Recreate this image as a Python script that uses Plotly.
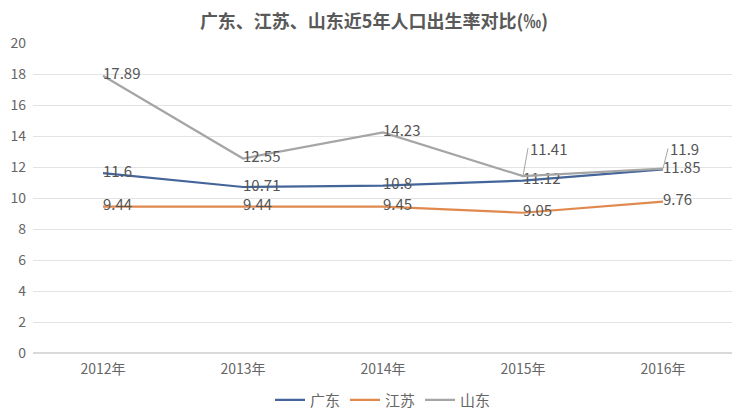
import plotly.graph_objects as go

years = ['2012年', '2013年', '2014年', '2015年', '2016年']
guangdong = [11.6, 10.71, 10.8, 11.12, 11.85]
jiangsu = [9.44, 9.44, 9.45, 9.05, 9.76]
shandong = [17.89, 12.55, 14.23, 11.41, 11.9]

# 山东 last two labels sit above with leader lines (pixel offsets up)
callout_idx = [3, 4]
callout_lift = [-28, -20]

font_cn = 'Noto Sans CJK SC'
label_color = '#555555'

fig = go.Figure()

series = [
    ('广东', guangdong, '#44659A'),
    ('江苏', jiangsu, '#E0894E'),
    ('山东', shandong, '#A5A5A5'),
]

for name, vals, color in series:
    if name == '山东':
        texts = ['' if i in callout_idx else str(v) for i, v in enumerate(vals)]
    else:
        texts = [str(v) for v in vals]
    fig.add_trace(go.Scatter(
        x=years, y=vals, name=name, mode='lines+text',
        line=dict(color=color, width=2.2),
        text=texts, textposition='middle right',
        textfont=dict(size=15, color=label_color, family=font_cn),
        cliponaxis=False,
    ))

for i, lift in zip(callout_idx, callout_lift):
    fig.add_annotation(
        x=years[i], y=shandong[i], text=str(shandong[i]),
        showarrow=True, arrowhead=0, arrowwidth=1, arrowcolor='#A5A5A5',
        ax=5, ay=lift, xanchor='left', yanchor='middle',
        font=dict(size=15, color=label_color, family=font_cn),
    )

# page body adds an 8px offset, so the figure is a bit smaller than the window
fig.update_layout(
    width=732, height=408,
    paper_bgcolor='white', plot_bgcolor='white',
    margin=dict(l=25, r=7, t=35, b=63, autoexpand=False),
    title=dict(
        text='<b>广东、江苏、山东近5年人口出生率对比(‰)</b>',
        x=0.5, xanchor='center', y=0.966, yanchor='middle',
        font=dict(size=18, color='#595959', family=font_cn),
    ),
    font=dict(family=font_cn, color='#666666', size=14),
    legend=dict(
        orientation='h', x=0.5, xanchor='center',
        yref='container', y=0.039, yanchor='middle',
        font=dict(size=15, color='#666666'), itemwidth=30,
        traceorder='normal',
    ),
    showlegend=True,
)

fig.update_yaxes(
    range=[0, 20], dtick=2, showgrid=True, gridcolor='#E3E3E3', gridwidth=1,
    zeroline=True, zerolinecolor='#D9D9D9', showline=False,
    tickfont=dict(size=14, color='#666666'), ticks='', ticklabelstandoff=6,
)
fig.update_xaxes(
    range=[-0.5, 4.5], showgrid=False, showline=False, ticks='',
    tickfont=dict(size=14, color='#666666'), ticklabelstandoff=6,
)

fig.write_html('out.html')
